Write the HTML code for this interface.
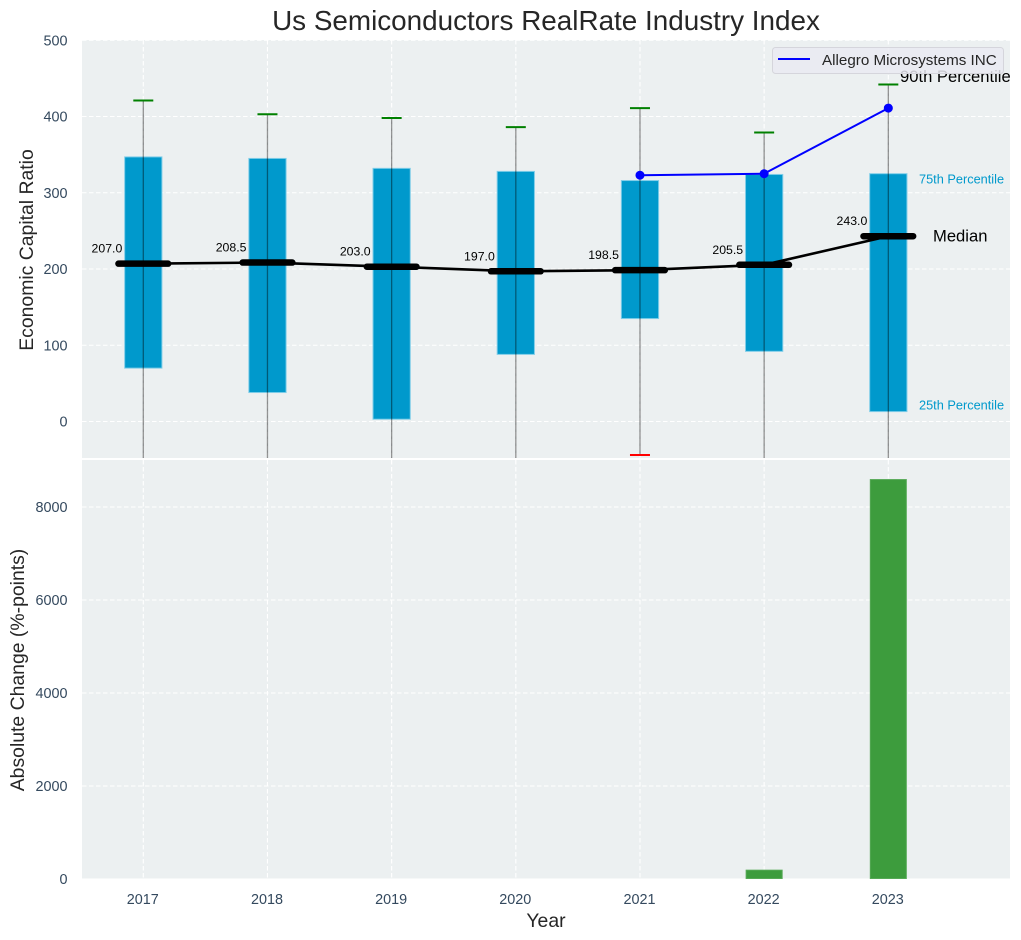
<!DOCTYPE html>
<html>
<head>
<meta charset="utf-8">
<title>Us Semiconductors RealRate Industry Index</title>
<style>
html,body{margin:0;padding:0;background:#fff;}
svg{display:block;font-family:"Liberation Sans",Arial,sans-serif;}
</style>
</head>
<body>
<svg id="chart" width="1021" height="940" viewBox="0 0 1021 940" xmlns="http://www.w3.org/2000/svg">
<defs>
<clipPath id="topClip"><rect x="82" y="40" width="928" height="418"></rect></clipPath>
<clipPath id="botClip"><rect x="82" y="460" width="928" height="419"></rect></clipPath>
</defs>
</svg>
<script>
const years = [2017, 2018, 2019, 2020, 2021, 2022, 2023];
const q25 = [70, 38, 3, 88, 135, 92, 13];
const q75 = [347, 345, 332, 328, 316, 324, 325];
const medians = [207.0, 208.5, 203.0, 197.0, 198.5, 205.5, 243.0];
const p90 = [421, 403, 398, 386, 411, 379, 442];
const p10 = [-70, -70, -70, -70, -44, -70, -70];
const companyYears = [2021, 2022, 2023];
const companyValues = [323, 325, 411];
const changeYears = [2022, 2023];
const changeValues = [190, 8590];
const topTicks = [0, 100, 200, 300, 400, 500];
const bottomTicks = [0, 2000, 4000, 6000, 8000];

const svg = document.getElementById('chart');
const NS = 'http://www.w3.org/2000/svg';
function make(tag, attrs, parent, text) {
  const n = document.createElementNS(NS, tag);
  for (const k in attrs) n.setAttribute(k, attrs[k]);
  if (text !== undefined) n.textContent = text;
  (parent || svg).appendChild(n);
  return n;
}
function x(year) { return 143.3 + (year - 2017) * 124.17; }
function yTop(v) { return 421.5 - v * 0.7625; }
function yBot(v) { return 879 - v * 0.0465; }
const TICK = '#34495e';
const BOX = '#0099cc';

/* panels */
const topPanel = make('rect', {x:82, y:40, width:928, height:418, fill:'#ecf0f1'});


const botPanel = make('rect', {x:82, y:460, width:928, height:418.5, fill:'#ecf0f1'});



const gridStyle = {stroke:'#fff', 'stroke-width':1.1, 'stroke-dasharray':'4.5 2.5', fill:'none'};

/* grid and axis ticks */
topTicks.forEach(function (t) {
  const g = make('line', Object.assign({x1:82, x2:1010, y1:yTop(t), y2:yTop(t)}, gridStyle));
  
  
  const l = make('text', {x:67.5, y:yTop(t) + 5, 'text-anchor':'end', 'font-size':14.4, fill:TICK}, svg, String(t));
  
  
});
bottomTicks.forEach(function (t) {
  const g = make('line', Object.assign({x1:82, x2:1010, y1:yBot(t), y2:yBot(t)}, gridStyle));
  
  
  const l = make('text', {x:67.5, y:yBot(t) + 5, 'text-anchor':'end', 'font-size':14.4, fill:TICK}, svg, String(t));
  
  
});
years.forEach(function (yr) {
  const a = make('line', Object.assign({x1:x(yr), x2:x(yr), y1:40, y2:458}, gridStyle));
  
  
  const b = make('line', Object.assign({x1:x(yr), x2:x(yr), y1:460, y2:879}, gridStyle));
  
  
  const l = make('text', {x:x(yr) - 0.5, y:904, 'text-anchor':'middle', 'font-size':14.4, fill:TICK}, svg, String(yr));
  
  
});

/* top panel marks */
const topG = make('g', {'clip-path':'url(#topClip)'});


const boxHalf = 0.15;
years.forEach(function (yr, i) {
  const box = make('rect', {
    x:x(yr - boxHalf), y:yTop(q75[i]),
    width:x(yr + boxHalf) - x(yr - boxHalf), height:yTop(q25[i]) - yTop(q75[i]),
    fill:BOX, stroke:'#7fcde8', 'stroke-width':1
  }, topG);
  
  
  const w = make('line', {x1:x(yr), x2:x(yr), y1:yTop(p90[i]), y2:yTop(p10[i]), stroke:'#000', 'stroke-opacity':0.42, 'stroke-width':1.3}, topG);
  
  
  const capHi = make('line', {x1:x(yr) - 10, x2:x(yr) + 10, y1:yTop(p90[i]), y2:yTop(p90[i]), stroke:'#008000', 'stroke-width':2}, topG);
  
  
  const capLo = make('line', {x1:x(yr) - 10, x2:x(yr) + 10, y1:yTop(p10[i]), y2:yTop(p10[i]), stroke:'#ff0000', 'stroke-width':2}, topG);
  
  
});
const medLine = make('polyline', {
  points: years.map(function (yr, i) { return x(yr) + ',' + yTop(medians[i]); }).join(' '),
  fill:'none', stroke:'#000', 'stroke-width':2.6
}, topG);


years.forEach(function (yr, i) {
  const m = make('line', {x1:x(yr - 0.2), x2:x(yr + 0.2), y1:yTop(medians[i]), y2:yTop(medians[i]), stroke:'#000', 'stroke-width':6.5, 'stroke-linecap':'round'}, topG);
  
  
  const t = make('text', {x:x(yr) - 21, y:yTop(medians[i]) - 11, 'text-anchor':'end', 'font-size':12.3, fill:'#000'}, svg, medians[i].toFixed(1));
  
  
});
const coLine = make('polyline', {
  points: companyYears.map(function (yr, i) { return x(yr) + ',' + yTop(companyValues[i]); }).join(' '),
  fill:'none', stroke:'#0000ff', 'stroke-width':2
}, topG);


companyYears.forEach(function (yr, i) {
  const c = make('circle', {cx:x(yr), cy:yTop(companyValues[i]), r:4.5, fill:'#0000ff'}, topG);
  
  
});

/* percentile annotations anchored to the 2023 values */
const last = years.length - 1;
const a90 = make('text', {x:900, y:yTop(p90[last]) - 2.5, 'font-size':16.6, fill:'#000'}, svg, '90th Percentile');


const a75 = make('text', {x:919, y:yTop(q75[last]) + 10, 'font-size':12.75, fill:BOX}, svg, '75th Percentile');


const aMed = make('text', {x:933, y:yTop(medians[last]) + 5.5, 'font-size':16.6, fill:'#000'}, svg, 'Median');


const a25 = make('text', {x:919, y:yTop(q25[last]) - 2, 'font-size':12.75, fill:BOX}, svg, '25th Percentile');



/* bottom panel bars */
const botG = make('g', {'clip-path':'url(#botClip)'});


changeYears.forEach(function (yr, i) {
  const b = make('rect', {
    x:x(yr - 0.145), y:yBot(changeValues[i]),
    width:x(yr + 0.145) - x(yr - 0.145), height:yBot(0) - yBot(changeValues[i]) - 0.5,
    fill:'#3d9c3d', stroke:'#55a955', 'stroke-width':1
  }, botG);
  
  
});

/* legend */
const legend = make('g', {});


const legendBox = make('rect', {x:772.5, y:47.5, width:231, height:26, rx:3, fill:'#eaeaf2', 'fill-opacity':0.85, stroke:'#d5d5dc', 'stroke-width':1}, legend);


const legendLine = make('line', {x1:778, x2:810, y1:59, y2:59, stroke:'#0000ff', 'stroke-width':2}, legend);


const legendText = make('text', {x:822, y:65, 'font-size':15.2, fill:'#262626'}, legend, 'Allegro Microsystems INC');



/* titles */
const title = make('text', {x:546, y:30, 'text-anchor':'middle', 'font-size':27.85, fill:'#262626'}, svg, 'Us Semiconductors RealRate Industry Index');


const yt = make('text', {transform:'translate(33,250) rotate(-90)', 'text-anchor':'middle', 'font-size':19.4, fill:'#262626'}, svg, 'Economic Capital Ratio');


const yb = make('text', {transform:'translate(24,670) rotate(-90)', 'text-anchor':'middle', 'font-size':19.4, fill:'#262626'}, svg, 'Absolute Change (%-points)');


const xt = make('text', {x:546, y:927, 'text-anchor':'middle', 'font-size':19.4, fill:'#262626'}, svg, 'Year');


</script>
</body>
</html>
